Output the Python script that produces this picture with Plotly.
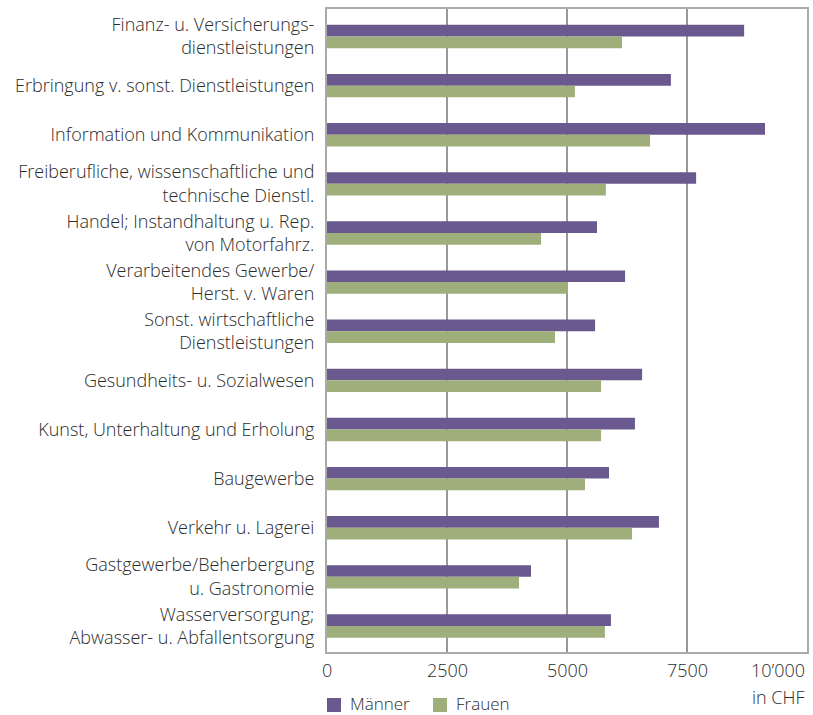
import plotly.graph_objects as go

categories = [
    "Finanz- u. Versicherungs-<br>dienstleistungen",
    "Erbringung v. sonst. Dienstleistungen",
    "Information und Kommunikation",
    "Freiberufliche, wissenschaftliche und<br>technische Dienstl.",
    "Handel; Instandhaltung u. Rep.<br>von Motorfahrz.",
    "Verarbeitendes Gewerbe/<br>Herst. v. Waren",
    "Sonst. wirtschaftliche<br>Dienstleistungen",
    "Gesundheits- u. Sozialwesen",
    "Kunst, Unterhaltung und Erholung",
    "Baugewerbe",
    "Verkehr u. Lagerei",
    "Gastgewerbe/Beherbergung<br>u. Gastronomie",
    "Wasserversorgung;<br>Abwasser- u. Abfallentsorgung",
]
maenner = [8690, 7165, 9125, 7690, 5625, 6210, 5585, 6565, 6415, 5875, 6915, 4250, 5915]
frauen = [6145, 5165, 6730, 5810, 4460, 5020, 4750, 5710, 5710, 5375, 6355, 4000, 5790]
series_names = ["Männer", "Frauen"]
tick_vals = [0, 2500, 5000, 7500, 10000]
tick_text = ["0", "2500", "5000", "7500", "10’000"]
unit_label = "in CHF"

PURPLE = "#6A598E"
GREEN = "#9FAF7B"
COLORS = [PURPLE, GREEN]
TEXT = "#2b2b2b"
FONT = "Open Sans, Liberation Sans, Arial, sans-serif"
W = 300

fig = go.Figure()
for name, vals, col in zip(series_names, [maenner, frauen], COLORS):
    fig.add_trace(go.Bar(y=categories, x=vals, orientation="h", name=name,
                         marker=dict(color=col, line=dict(width=0))))

annotations = []
for v, t in zip(tick_vals, tick_text):
    annotations.append(dict(
        x=v, y=0, xref="x", yref="paper", yshift=-18,
        text=t, showarrow=False,
        xanchor="right" if v == tick_vals[-1] else "center", yanchor="middle",
        font=dict(size=18, color=TEXT, family=FONT, weight=W),
    ))
annotations.append(dict(
    x=1, y=0, xref="paper", yref="paper", yshift=-45,
    text=unit_label, showarrow=False, xanchor="right", yanchor="middle",
    font=dict(size=18, color=TEXT, family=FONT, weight=W),
))

# manual legend (plot area: x 327..807 px, y 9..652 px)
PW, PH = 480.0, 643.0
shapes = []
leg_x = [327, 433]
for name, col, lx in zip(series_names, COLORS, leg_x):
    x0 = (lx - 327) / PW
    shapes.append(dict(type="rect", xref="paper", yref="paper",
                       x0=x0, x1=x0 + 14 / PW,
                       y0=(652 - 698) / PH, y1=(652 - 712) / PH,
                       fillcolor=col, line=dict(width=0)))
    annotations.append(dict(
        x=x0 + 21 / PW, y=(652 - 703) / PH, xref="paper", yref="paper",
        text=name, showarrow=False, xanchor="left", yanchor="middle",
        font=dict(size=17, color=TEXT, family=FONT, weight=W),
    ))

fig.update_layout(
    width=813, height=715,
    margin=dict(l=327, r=6, t=9, b=63, autoexpand=False),
    paper_bgcolor="white", plot_bgcolor="white",
    barmode="group", bargap=0.525, bargroupgap=0,
    font=dict(family=FONT, color=TEXT, size=18, weight=W),
    showlegend=False,
    annotations=annotations,
    shapes=shapes,
)
fig.update_xaxes(
    range=[0, 10000], tickvals=tick_vals, showticklabels=False,
    showgrid=True, gridcolor="#999999", gridwidth=1.5,
    showline=True, linecolor="#AAAAAA", linewidth=2, mirror=True,
    zeroline=False, ticks="",
)
fig.update_yaxes(
    range=[12.53, -0.56], type="category",
    showgrid=False, showline=True, linecolor="#AAAAAA", linewidth=2, mirror=True,
    ticks="", ticklabelstandoff=7,
    tickfont=dict(size=18, color=TEXT, family=FONT, weight=W),
)

fig.write_html("out.html", config={"displayModeBar": False},
               post_script="document.body.style.margin='0';document.body.style.padding='0';")
